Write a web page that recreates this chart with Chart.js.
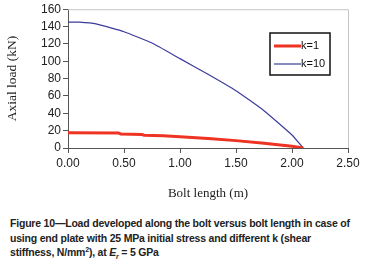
<!DOCTYPE html>
<html><head><meta charset="utf-8">
<script src="https://cdn.jsdelivr.net/npm/chart.js@4"></script>
<style>
html,body{margin:0;padding:0;background:#fff;width:366px;height:272px;overflow:hidden}
#wrap{position:absolute;left:0;top:0;width:366px;height:205px}
#cap{position:absolute;left:10px;top:216px;width:346px;font-family:"Liberation Sans",Arial,sans-serif;font-weight:bold;font-size:10.5px;line-height:14.5px;color:#222;letter-spacing:-0.2px}
</style></head><body>
<div id="wrap"><canvas id="c" width="366" height="205"></canvas></div>
<div id="cap">Figure 10—Load developed along the bolt versus bolt length in case of using end plate with 25 MPa initial stress and different k (shear stiffness, N/mm<sup style="font-size:7px;line-height:0">2</sup>), at <i>E<sub style="font-size:7px;line-height:0">r</sub></i> = 5 GPa</div>
<script>
const xTicks = [0, 0.5, 1.0, 1.5, 2.0, 2.5];
const yTicks = [0, 20, 40, 60, 80, 100, 120, 140, 160];
const seriesNames = ["k=1", "k=10"];
const k1X = [0, 0.45, 0.47, 0.66, 0.68, 0.85, 1.0, 1.25, 1.5, 1.75, 2.0, 2.1];
const k1Y = [17.5, 17.4, 16.2, 15.6, 14.8, 14.1, 13, 11, 8.5, 5.5, 2, 0];
const k10X = [0, 0.1, 0.25, 0.5, 0.75, 1.0, 1.25, 1.5, 1.75, 2.0, 2.1];
const k10Y = [145, 145, 143, 134, 121, 103, 85, 66, 43, 15, 0];

const RED = '#ee3322', BLUE = '#3b3b9c';
const pts = (xs, ys) => xs.map((x, i) => ({x, y: ys[i]}));

const frame = {
  id: 'frame',
  afterDatasetsDraw(chart) {
    const {ctx, chartArea: a} = chart;
    ctx.save();
    ctx.strokeStyle = '#c4c4c4'; ctx.lineWidth = 1;
    ctx.beginPath();
    ctx.moveTo(a.left, a.top + 0.5); ctx.lineTo(a.right + 0.5, a.top + 0.5); ctx.lineTo(a.right + 0.5, a.bottom);
    ctx.stroke();
    const lx = 270, ly = 33, lw = 60, lh = 42;
    ctx.fillStyle = '#fff'; ctx.fillRect(lx, ly, lw, lh);
    ctx.strokeStyle = '#111'; ctx.lineWidth = 1.5;
    ctx.strokeRect(lx, ly, lw, lh);
    ctx.font = '11px "Liberation Sans", Arial, sans-serif';
    ctx.textBaseline = 'middle'; ctx.textAlign = 'left';
    chart.data.datasets.forEach((ds, i) => {
      const y = ly + 13 + i * 18;
      ctx.strokeStyle = ds.borderColor; ctx.lineWidth = ds.borderWidth;
      ctx.beginPath(); ctx.moveTo(lx + 4, y); ctx.lineTo(lx + 31, y); ctx.stroke();
      ctx.fillStyle = '#111'; ctx.fillText(ds.label, lx + 31, y);
    });
    ctx.restore();
  }
};

new Chart(document.getElementById('c'), {
  type: 'line',
  data: {
    datasets: [
      {label: seriesNames[0], data: pts(k1X, k1Y), borderColor: RED, borderWidth: 3, pointRadius: 0, tension: 0},
      {label: seriesNames[1], data: pts(k10X, k10Y), borderColor: BLUE, borderWidth: 1.2, pointRadius: 0, tension: 0.12}
    ]
  },
  options: {
    responsive: false, animation: false,
    layout: {padding: {left: 0, right: 18, top: 4, bottom: 0}},
    plugins: {legend: {display: false}, tooltip: {enabled: false}},
    scales: {
      x: {
        type: 'linear', min: 0, max: 2.5,
        afterBuildTicks: ax => { ax.ticks = xTicks.map(v => ({value: v})); },
        afterFit: ax => { ax.height = 57; },
        grid: {display: true, drawOnChartArea: false, drawTicks: true, tickLength: 5, color: '#555'},
        border: {display: true, color: '#555', width: 1},
        ticks: {autoSkip: false, color: '#222', font: {family: '"Liberation Sans", Arial, sans-serif', size: 12}, padding: 3, maxRotation: 0,
          callback: v => Number(v).toFixed(2)},
        title: {display: true, text: 'Bolt length (m)', color: '#222', font: {family: '"Liberation Serif", "Times New Roman", serif', size: 13}, padding: {top: 14}}
      },
      y: {
        type: 'linear', min: 0, max: 160,
        afterBuildTicks: ax => { ax.ticks = yTicks.map(v => ({value: v})); },
        afterFit: ax => { ax.width = 68; },
        grid: {display: true, drawOnChartArea: false, drawTicks: true, tickLength: 5, color: '#555'},
        border: {display: true, color: '#555', width: 1},
        ticks: {autoSkip: false, color: '#222', font: {family: '"Liberation Sans", Arial, sans-serif', size: 12}, padding: 2},
        title: {display: true, text: 'Axial load (kN)', color: '#222', font: {family: '"Liberation Serif", "Times New Roman", serif', size: 13.5}, padding: {bottom: 4}}
      }
    }
  },
  plugins: [frame]
});
</script>
</body></html>
